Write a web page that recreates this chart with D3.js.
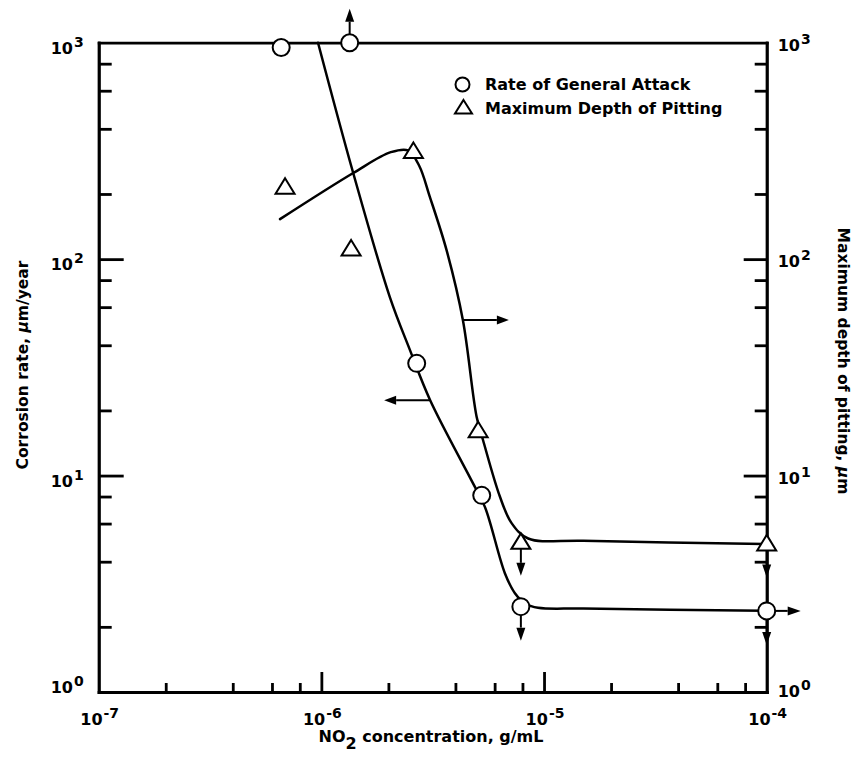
<!DOCTYPE html>
<html>
<head>
<meta charset="utf-8">
<script src="https://cdn.jsdelivr.net/npm/d3@7"></script>
<style>
  html, body { margin: 0; padding: 0; background: #fff; }
  svg { display: block; }
</style>
</head>
<body>
<svg id="chart" width="855" height="772"></svg>
<script>
// Measured points: NO2 concentration (g/mL) and result for each test
const rateConc   = [6.6e-7, 1.34e-6, 2.68e-6, 5.25e-6, 7.87e-6, 1e-4];
const rateValues = [950, 1000, 33, 8.1, 2.48, 2.37];          // µm/year
const rateLimits = ["", "up", "", "", "down", "right down"];  // bound arrows

const pitConc    = [6.87e-7, 1.36e-6, 2.59e-6, 5.06e-6, 7.87e-6, 1e-4];
const pitValues  = [216, 112, 316, 16.2, 4.94, 4.86];         // µm
const pitLimits  = ["", "", "", "", "down", "down"];

// Faired trend curves drawn through the data
const rateCurveConc   = [9.66e-7, 1.39e-6, 2.03e-6, 2.5e-6, 3.08e-6, 4.8e-6, 5.43e-6, 6.67e-6, 7.4e-6, 8.3e-6, 9.4e-6, 1.5e-5, 1e-4];
const rateCurveValues = [1000, 250, 66.8, 38, 22.3, 9.2, 7.15, 3.54, 2.86, 2.55, 2.45, 2.43, 2.37];

const pitCurveConc   = [6.52e-7, 1.39e-6, 2.05e-6, 2.45e-6, 2.75e-6, 3.07e-6, 3.65e-6, 4.32e-6, 4.98e-6, 5.32e-6, 6.34e-6, 7.15e-6, 8.49e-6, 1.5e-5, 1e-4];
const pitCurveValues = [153, 250, 312, 318, 270, 194, 110, 52.3, 18.7, 14.6, 7.98, 6.03, 5.12, 5.0, 4.82];

// Direction arrows tying each curve to its axis
const curveArrowConc   = [3.08e-6, 4.32e-6];
const curveArrowValues = [22.3, 52.3];
const curveArrowDirs   = ["left", "right"];

// Axes
const xTicks      = [1e-7, 1e-6, 1e-5, 1e-4];
const xTickExps   = ["-7", "-6", "-5", "-4"];
const yTicks      = [1, 10, 100, 1000];
const yTickExps   = ["0", "1", "2", "3"];
const minorSteps  = [2, 4, 6, 8];
const legendLabels = ["Rate of General Attack", "Maximum Depth of Pitting"];

const W = 855, H = 772;
const margin = { left: 98.7, right: 88.3, top: 42.7, bottom: 80 };

const x = d3.scaleLog().domain([1e-7, 1e-4]).range([margin.left, W - margin.right]);
const y = d3.scaleLog().domain([1, 1000]).range([H - margin.bottom, margin.top]);

const svg = d3.select("#chart");
const TEXT_FONT = "'DejaVu Sans', Verdana, sans-serif";

function minorsOf(domain) {
  const out = [];
  const lo = Math.round(Math.log10(domain[0])), hi = Math.round(Math.log10(domain[1]));
  for (let e = lo; e < hi; e++) minorSteps.forEach(m => out.push(m * Math.pow(10, e)));
  return out;
}

// ---- axes ----
const axes = svg.append("g").attr("stroke-width", 2.8).attr("color", "#000");
const x0 = margin.left, x1 = W - margin.right, yTop = margin.top, yBot = H - margin.bottom;

function addAxis(axis, tx, ty) {
  const g = axes.append("g").attr("transform", `translate(${tx},${ty})`).call(axis);
  g.selectAll("text").remove();
  g.select(".domain").attr("stroke-linecap", "square");
  return g;
}
// bottom
addAxis(d3.axisBottom(x).tickValues([1e-6, 1e-5]).tickSizeInner(-20).tickSizeOuter(0).tickFormat(""), 0, yBot);
addAxis(d3.axisBottom(x).tickValues(minorsOf(x.domain())).tickSizeInner(-9).tickSizeOuter(0).tickFormat(""), 0, yBot);
// top (plain rule)
addAxis(d3.axisTop(x).tickValues([]).tickSizeOuter(0), 0, yTop);
// left
addAxis(d3.axisLeft(y).tickValues([10, 100]).tickSizeInner(-25).tickSizeOuter(0).tickFormat(""), x0, 0);
addAxis(d3.axisLeft(y).tickValues(minorsOf(y.domain())).tickSizeInner(-13).tickSizeOuter(0).tickFormat(""), x0, 0);
// right
addAxis(d3.axisRight(y).tickValues([10, 100]).tickSizeInner(-23).tickSizeOuter(0).tickFormat(""), x1, 0);
addAxis(d3.axisRight(y).tickValues(minorsOf(y.domain())).tickSizeInner(-12).tickSizeOuter(0).tickFormat(""), x1, 0);

// ---- tick labels (powers of ten) ----
function powerLabel(g, px, py, exp, anchor) {
  const t = g.append("text")
    .attr("x", px).attr("y", py)
    .attr("text-anchor", anchor)
    .attr("font-family", TEXT_FONT).attr("font-weight", "bold")
    .attr("font-size", 16).attr("fill", "#000");
  t.append("tspan").text("10");
  t.append("tspan").attr("font-size", 14).attr("dx", 1).attr("dy", -7).text(exp);
}
const labels = svg.append("g");
xTicks.forEach((v, i) => powerLabel(labels, x(v) + 1, yBot + 33, xTickExps[i], "middle"));
yTicks.forEach((v, i) => powerLabel(labels, x0 - 15, y(v) + (v === 1 ? 1 : 11), yTickExps[i], "end"));
yTicks.forEach((v, i) => powerLabel(labels, x1 + 11, y(v) + (v === 1 ? 5 : 8), yTickExps[i], "start"));

// ---- axis titles ----
const leftTitle = svg.append("text")
  .attr("transform", `translate(28,365) rotate(-90)`)
  .attr("text-anchor", "middle")
  .attr("font-family", TEXT_FONT).attr("font-weight", "bold").attr("font-size", 15.5);
leftTitle.append("tspan").text("Corrosion rate, ");
leftTitle.append("tspan").attr("font-style", "italic").text("μ");
leftTitle.append("tspan").text("m/year");

const rightTitle = svg.append("text")
  .attr("transform", `translate(838,361) rotate(90)`)
  .attr("text-anchor", "middle")
  .attr("font-family", TEXT_FONT).attr("font-weight", "bold").attr("font-size", 15.5);
rightTitle.append("tspan").text("Maximum depth of pitting, ");
rightTitle.append("tspan").attr("font-style", "italic").text("μ");
rightTitle.append("tspan").text("m");

const xTitle = svg.append("text")
  .attr("x", 431).attr("y", 742)
  .attr("text-anchor", "middle")
  .attr("font-family", TEXT_FONT).attr("font-weight", "bold").attr("font-size", 16);
xTitle.append("tspan").text("NO");
xTitle.append("tspan").attr("dy", 7).text("2");
xTitle.append("tspan").attr("dy", -7).text(" concentration, g/mL");

// ---- trend curves ----
const line = d3.line()
  .x(d => x(d[0])).y(d => y(d[1]))
  .curve(d3.curveCatmullRom.alpha(0.5));
const curves = svg.append("g").attr("fill", "none").attr("stroke", "#000")
  .attr("stroke-width", 2.5).attr("stroke-linecap", "round").attr("stroke-linejoin", "round");
curves.append("path").attr("d", line(d3.zip(rateCurveConc, rateCurveValues)));
curves.append("path").attr("d", line(d3.zip(pitCurveConc, pitCurveValues)));

// ---- arrows ----
const arrowG = svg.append("g");
function arrow(xa, ya, xb, yb, head = 13, half = 4.5) {
  const a = Math.atan2(yb - ya, xb - xa);
  const bx = xb - head * Math.cos(a), by = yb - head * Math.sin(a);
  arrowG.append("line")
    .attr("x1", xa).attr("y1", ya).attr("x2", bx).attr("y2", by)
    .attr("stroke", "#000").attr("stroke-width", 2);
  arrowG.append("path")
    .attr("d", `M${xb},${yb}L${bx - half * Math.sin(a)},${by + half * Math.cos(a)}L${bx + half * Math.sin(a)},${by - half * Math.cos(a)}Z`)
    .attr("fill", "#000");
}
const dirVec = { up: [0, -1], down: [0, 1], left: [-1, 0], right: [1, 0] };

curveArrowConc.forEach((c, i) => {
  const px = x(c), py = y(curveArrowValues[i]);
  const [dx, dy] = dirVec[curveArrowDirs[i]];
  arrow(px, py, px + dx * 46, py + dy * 46, 12, 4.5);
});

const R = 8.5;
function limitArrows(conc, vals, limits, startOffset) {
  conc.forEach((c, i) => {
    if (!limits[i]) return;
    const px = x(c), py = y(vals[i]);
    limits[i].split(" ").forEach(dir => {
      const [dx, dy] = dirVec[dir];
      const s = startOffset(dir);
      arrow(px + dx * s, py + dy * s, px + dx * 34, py + dy * 34, 13, 4.5);
    });
  });
}
limitArrows(rateConc, rateValues, rateLimits, () => R);
limitArrows(pitConc, pitValues, pitLimits, dir => (dir === "down" ? 7 : 8));

// ---- markers ----
const marks = svg.append("g").attr("fill", "#fff").attr("stroke", "#000").attr("stroke-width", 2);
marks.selectAll("circle.rate")
  .data(d3.zip(rateConc, rateValues))
  .join("circle").attr("class", "rate")
  .attr("cx", d => x(d[0])).attr("cy", d => y(d[1])).attr("r", R);

const tri = (cx, cy, hw, up, dn) => `M${cx},${cy - up}L${cx + hw},${cy + dn}L${cx - hw},${cy + dn}Z`;
marks.selectAll("path.pit")
  .data(d3.zip(pitConc, pitValues))
  .join("path").attr("class", "pit")
  .attr("d", d => tri(x(d[0]), y(d[1]), 9.5, 8.5, 7));

// ---- legend ----
const legend = svg.append("g");
legend.append("circle").attr("cx", 462.5).attr("cy", 84.5).attr("r", 7)
  .attr("fill", "#fff").attr("stroke", "#000").attr("stroke-width", 2);
legend.append("path").attr("d", tri(463.5, 107, 8.5, 7, 6.5))
  .attr("fill", "#fff").attr("stroke", "#000").attr("stroke-width", 2);
legendLabels.forEach((t, i) => {
  legend.append("text")
    .attr("x", 485).attr("y", 90 + i * 23.5)
    .attr("font-family", TEXT_FONT).attr("font-weight", "bold").attr("font-size", 16)
    .text(t);
});
</script>
</body>
</html>
